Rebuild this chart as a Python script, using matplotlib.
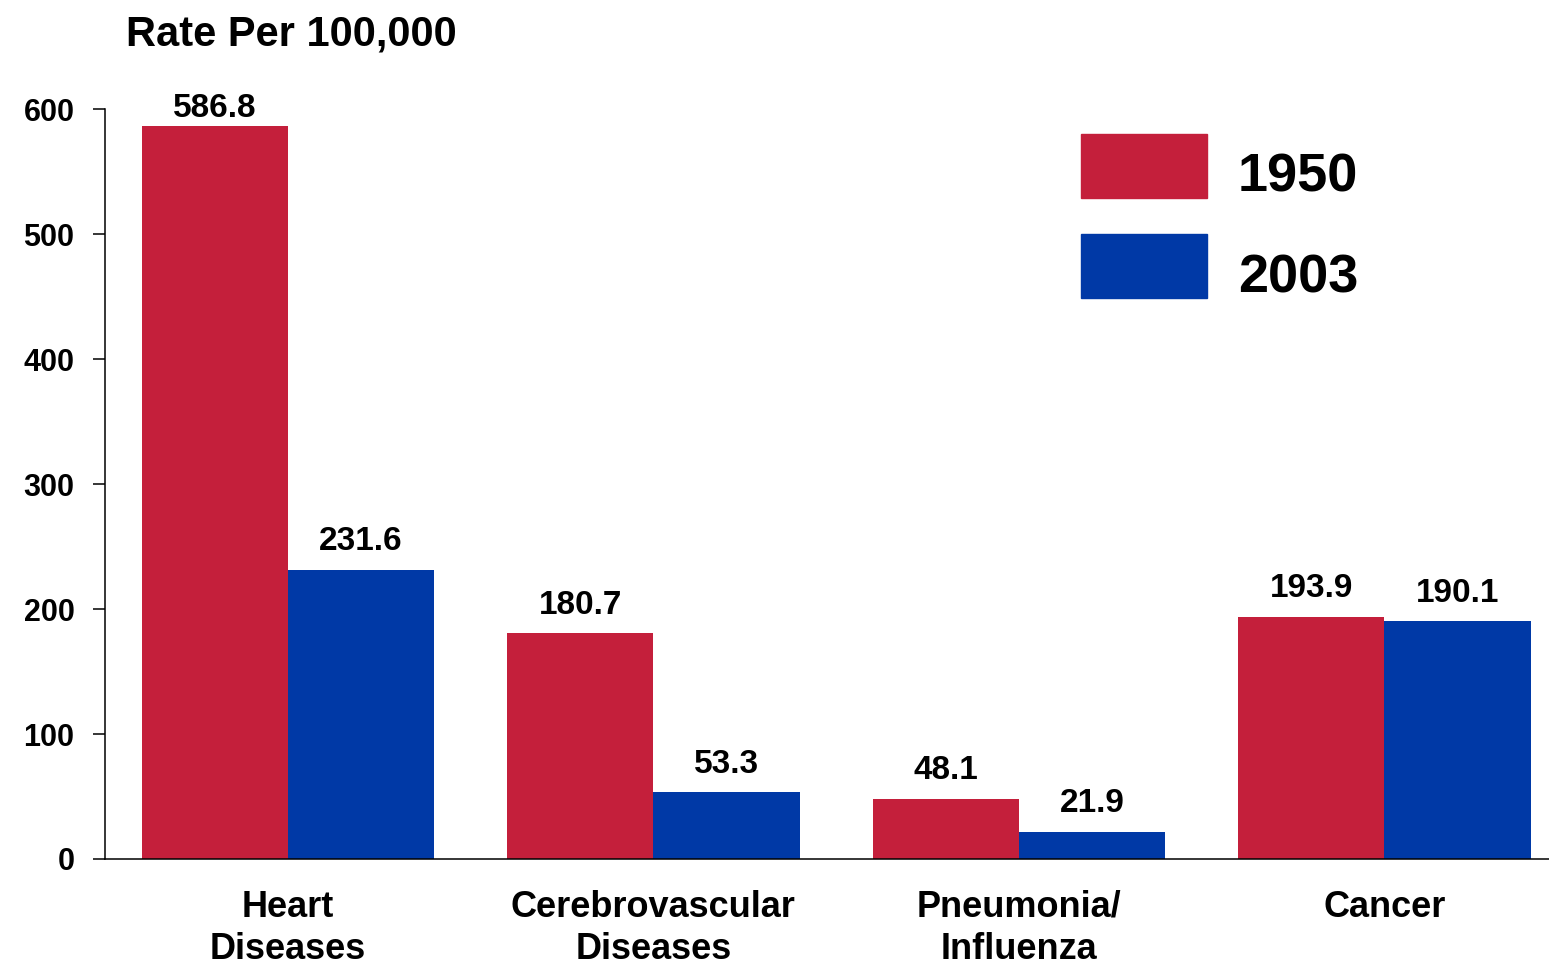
import matplotlib.pyplot as plt
from matplotlib.patches import Patch, Rectangle
from matplotlib.legend_handler import HandlerPatch
import numpy as np

plt.rcParams['font.family'] = ['Liberation Sans', 'DejaVu Sans']
plt.rcParams['font.weight'] = 'bold'

categories = ["Heart\nDiseases", "Cerebrovascular\nDiseases", "Pneumonia/\nInfluenza", "Cancer"]
rate_1950 = [586.8, 180.7, 48.1, 193.9]
rate_2003 = [231.6, 53.3, 21.9, 190.1]
years = ["1950", "2003"]
yticks = [0, 100, 200, 300, 400, 500, 600]

red = "#C41F3B"
blue = "#0039A6"
width = 0.4

fig = plt.figure(figsize=(15.49, 9.67), dpi=100)
ax = fig.add_axes([105 / 1549, 108 / 967, 1 - 105 / 1549, 749.7 / 967])

x = np.arange(len(categories))
b1 = ax.bar(x - width / 2, rate_1950, width, color=red)
b2 = ax.bar(x + width / 2, rate_2003, width, color=blue)

for bars in (b1, b2):
    for rect in bars:
        v = rect.get_height()
        pad = 6 if v > 550 else 14
        ax.annotate(f"{v:.1f}", (rect.get_x() + rect.get_width() / 2, v),
                    xytext=(0, pad), textcoords="offset points",
                    ha="center", va="baseline", fontsize=24, fontweight="bold",
                    annotation_clip=False)

ax.set_xlim(-0.5, 3.45)
ax.set_ylim(0, 600)
ax.set_yticks(yticks)
ax.set_xticks(x)
ax.set_xticklabels(categories, fontsize=26, fontweight="bold", linespacing=1.27)
ax.tick_params(axis="x", length=0, pad=22)
ax.tick_params(axis="y", length=9, width=1.1, pad=13, labelsize=22)
for lab in ax.get_yticklabels():
    lab.set_fontweight("bold")

for s in ("top", "right"):
    ax.spines[s].set_visible(False)
for s in ("left", "bottom"):
    ax.spines[s].set_linewidth(1.1)


# legend keys sit a little higher than the text in the original
def raised_patch(legend, orig_handle, xdescent, ydescent, width, height, fontsize):
    return Rectangle((-xdescent, -ydescent + 0.15 * fontsize), width, height)


handles = [Patch(color=red), Patch(color=blue)]
ax.legend(handles, years, loc="upper left", bbox_to_anchor=(1081 / 1549, 1 - 142 / 967),
          bbox_transform=fig.transFigure, frameon=False,
          handlelength=2.33, handleheight=1.44, handletextpad=0.57,
          labelspacing=0.67, borderpad=0, borderaxespad=0,
          handler_map={Patch: HandlerPatch(patch_func=raised_patch)},
          prop={"weight": "bold", "size": 39})

fig.text(126 / 1549, 1 - 45.6 / 967, "Rate Per 100,000", fontsize=30,
         fontweight="bold", va="baseline", ha="left")

fig.savefig("out.png", dpi=100)
